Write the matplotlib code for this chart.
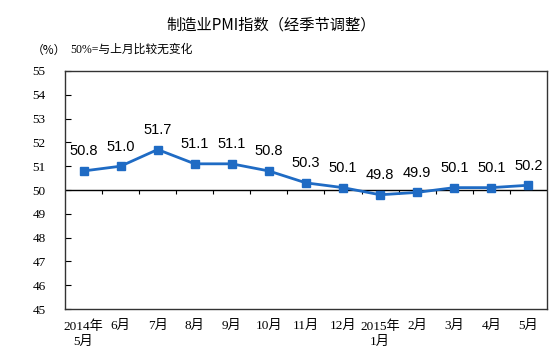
import matplotlib
matplotlib.use('Agg')
import matplotlib.pyplot as plt
import numpy as np

# 制造业PMI 数据
months = ['2014年\n5月', '6月', '7月', '8月', '9月', '10月', '11月', '12月',
          '2015年\n1月', '2月', '3月', '4月', '5月']
pmi = [50.8, 51.0, 51.7, 51.1, 51.1, 50.8, 50.3, 50.1, 49.8, 49.9, 50.1, 50.1, 50.2]
yticks = [45, 46, 47, 48, 49, 50, 51, 52, 53, 54, 55]

CJK = ['Liberation Serif', 'Noto Sans CJK SC']
LINE_COLOR = '#1f6bc4'

fig = plt.figure(figsize=(5.53, 3.64), dpi=100)
ax = fig.add_axes([0.1175, 0.151, 0.8715, 0.654])

x = np.arange(len(months))
ax.plot(x, pmi, color=LINE_COLOR, lw=2.0, marker='s', markersize=6, zorder=3)

# 数据标签
for xi, v in zip(x, pmi):
    ax.annotate(f'{v:.1f}', (xi, v), xytext=(0, 9), textcoords='offset points',
                ha='center', va='bottom', fontsize=10.5, family='Liberation Sans')

# 50 参考线和分隔刻度
ax.axhline(50, color='black', lw=1, zorder=2)
bounds = x[:-1] + 0.5
ax.vlines(bounds, 49.84, 50, color='black', lw=0.8)

ax.set_xlim(-0.5, len(months) - 0.5)
ax.set_ylim(45, 55)
ax.set_yticks(yticks)
ax.set_yticklabels([str(t) for t in yticks], family=CJK, fontsize=9.5)
ax.set_xticks(x)
ax.set_xticklabels(months, family=CJK, fontsize=9.5, linespacing=1.4, va='top')
ax.tick_params(axis='x', length=0, pad=8)
ax.tick_params(axis='y', direction='in', length=4, pad=14, width=0.8)
for s in ax.spines.values():
    s.set_color('#333333')
    s.set_linewidth(1)

fig.text(0.49, 0.932, '制造业PMI指数（经季节调整）', ha='center', va='center',
         fontsize=11, family=['Noto Sans CJK SC', 'DejaVu Sans'])
fig.text(0.058, 0.862, '（%）', ha='left', va='center', fontsize=8.5,
         family=['Noto Sans CJK SC', 'DejaVu Sans'])
fig.text(0.127, 0.862, '50%=与上月比较无变化', ha='left', va='center', fontsize=8.5,
         family=CJK)

fig.savefig('out.png', dpi=100)
plt.close(fig)
